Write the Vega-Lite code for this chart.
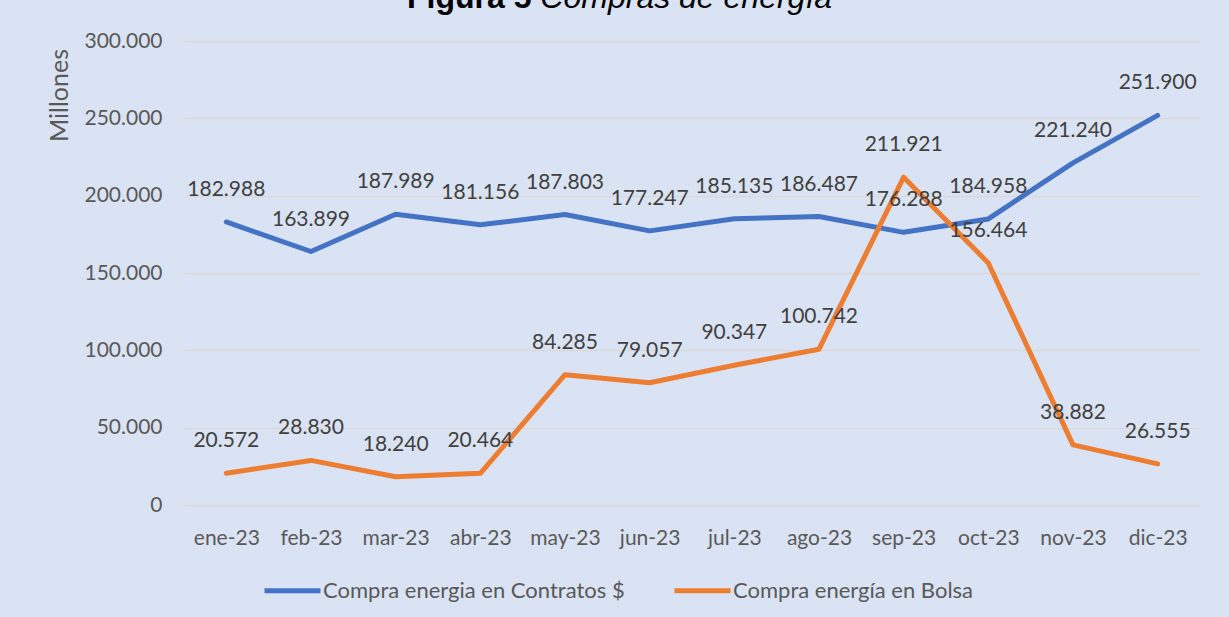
{
  "$schema": "https://vega.github.io/schema/vega-lite/v6.json",
  "width": 1016,
  "height": 464,
  "autosize": {"type": "none"},
  "padding": {"left": 184, "top": 41, "right": 29, "bottom": 112},
  "background": "#DAE3F3",
  "title": {
    "text": "Figura 5",
    "subtitle": "\u200b\u00a0\u00a0\u00a0\u00a0\u00a0\u00a0\u00a0\u00a0\u00a0\u00a0\u00a0\u00a0\u00a0\u00a0\u00a0Compras de energía",
    "anchor": "start",
    "align": "left",
    "dx": 360,
    "dy": -11,
    "font": "Liberation Sans",
    "fontSize": 32,
    "fontWeight": "bold",
    "color": "#000000",
    "subtitleFont": "Liberation Sans",
    "subtitleFontSize": 32,
    "subtitleFontStyle": "italic",
    "subtitleFontWeight": "normal",
    "subtitleColor": "#000000",
    "subtitlePadding": -32
  },
  "config": {
    "locale": {"number": {"decimal": ",", "thousands": ".", "grouping": [3], "currency": ["$", ""]}},
    "view": {"stroke": null}
  },
  "data": {
    "values": [
      {"mes": "ene-23", "serie": "Compra energia en Contratos $", "valor": 182988},
      {"mes": "feb-23", "serie": "Compra energia en Contratos $", "valor": 163899},
      {"mes": "mar-23", "serie": "Compra energia en Contratos $", "valor": 187989},
      {"mes": "abr-23", "serie": "Compra energia en Contratos $", "valor": 181156},
      {"mes": "may-23", "serie": "Compra energia en Contratos $", "valor": 187803},
      {"mes": "jun-23", "serie": "Compra energia en Contratos $", "valor": 177247},
      {"mes": "jul-23", "serie": "Compra energia en Contratos $", "valor": 185135},
      {"mes": "ago-23", "serie": "Compra energia en Contratos $", "valor": 186487},
      {"mes": "sep-23", "serie": "Compra energia en Contratos $", "valor": 176288},
      {"mes": "oct-23", "serie": "Compra energia en Contratos $", "valor": 184958},
      {"mes": "nov-23", "serie": "Compra energia en Contratos $", "valor": 221240},
      {"mes": "dic-23", "serie": "Compra energia en Contratos $", "valor": 251900},
      {"mes": "ene-23", "serie": "Compra energía en Bolsa", "valor": 20572},
      {"mes": "feb-23", "serie": "Compra energía en Bolsa", "valor": 28830},
      {"mes": "mar-23", "serie": "Compra energía en Bolsa", "valor": 18240},
      {"mes": "abr-23", "serie": "Compra energía en Bolsa", "valor": 20464},
      {"mes": "may-23", "serie": "Compra energía en Bolsa", "valor": 84285},
      {"mes": "jun-23", "serie": "Compra energía en Bolsa", "valor": 79057},
      {"mes": "jul-23", "serie": "Compra energía en Bolsa", "valor": 90347},
      {"mes": "ago-23", "serie": "Compra energía en Bolsa", "valor": 100742},
      {"mes": "sep-23", "serie": "Compra energía en Bolsa", "valor": 211921},
      {"mes": "oct-23", "serie": "Compra energía en Bolsa", "valor": 156464},
      {"mes": "nov-23", "serie": "Compra energía en Bolsa", "valor": 38882},
      {"mes": "dic-23", "serie": "Compra energía en Bolsa", "valor": 26555}
    ]
  },
  "encoding": {
    "x": {
      "field": "mes",
      "type": "ordinal",
      "sort": null,
      "axis": {
        "title": null,
        "labelAngle": 0,
        "domain": false,
        "ticks": false,
        "grid": false,
        "labelPadding": 22,
        "labelFont": "Lato",
        "labelFontSize": 21,
        "labelColor": "#595959"
      }
    },
    "y": {
      "field": "valor",
      "type": "quantitative",
      "scale": {"domain": [0, 300000], "nice": false},
      "axis": {
        "values": [0, 50000, 100000, 150000, 200000, 250000, 300000],
        "format": ",d",
        "grid": true,
        "gridColor": "#D9D9D9",
        "gridWidth": 1.3,
        "domain": false,
        "ticks": false,
        "labelPadding": 22,
        "labelFont": "Lato",
        "labelFontSize": 21,
        "labelColor": "#595959",
        "title": "Millones",
        "titleFont": "Lato",
        "titleFontSize": 25,
        "titleFontWeight": "normal",
        "titleColor": "#595959",
        "titleX": -125,
        "titleY": 54,
        "titleAngle": -90,
        "titleAlign": "center",
        "titleBaseline": "middle"
      }
    }
  },
  "layer": [
    {
      "mark": {"type": "line", "strokeWidth": 5, "strokeCap": "round", "strokeJoin": "round"},
      "encoding": {
        "color": {
          "field": "serie",
          "type": "nominal",
          "sort": null,
          "scale": {
            "domain": ["Compra energia en Contratos $", "Compra energía en Bolsa"],
            "range": ["#4472C4", "#ED7D31"]
          },
          "legend": {
            "title": null,
            "orient": "none",
            "direction": "horizontal",
            "legendX": 78,
            "legendY": 519,
            "symbolType": "stroke",
            "symbolSize": 3136,
            "symbolStrokeWidth": 5,
            "labelFont": "Lato",
            "labelFontSize": 22,
            "labelColor": "#595959",
            "labelOffset": 0,
            "labelLimit": 0,
            "columnPadding": 39
          }
        }
      }
    },
    {
      "mark": {"type": "text", "dy": -32, "baseline": "middle", "align": "center", "font": "Lato", "fontSize": 21, "color": "#404040"},
      "encoding": {
        "text": {"field": "valor", "type": "quantitative", "format": ",d"}
      }
    }
  ]
}
